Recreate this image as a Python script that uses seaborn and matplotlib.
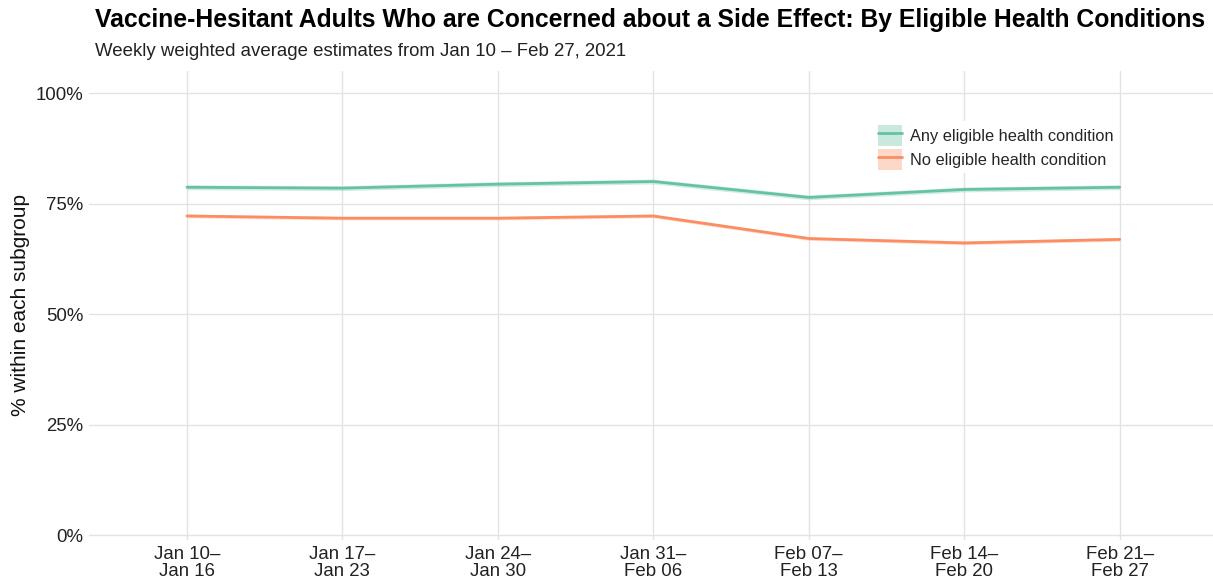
import numpy as np
import pandas as pd
import matplotlib
matplotlib.use("Agg")
import matplotlib.pyplot as plt
import seaborn as sns
from matplotlib.patches import Patch
from matplotlib.lines import Line2D

weeks = ["Jan 10–\nJan 16", "Jan 17–\nJan 23", "Jan 24–\nJan 30", "Jan 31–\nFeb 06",
         "Feb 07–\nFeb 13", "Feb 14–\nFeb 20", "Feb 21–\nFeb 27"]
groups = ["Any eligible health condition", "No eligible health condition"]
any_cond = [78.7, 78.5, 79.4, 80.0, 76.4, 78.2, 78.7]
no_cond = [72.2, 71.7, 71.7, 72.2, 67.1, 66.1, 66.9]
any_err = [0.55, 0.55, 0.55, 0.55, 0.55, 0.55, 0.55]
no_err = [0.4, 0.4, 0.4, 0.4, 0.4, 0.4, 0.4]
colors = ["#66C2A5", "#FC8D62"]

df = pd.DataFrame({
    "week": list(range(len(weeks))) * 2,
    "value": any_cond + no_cond,
    "err": any_err + no_err,
    "group": [groups[0]] * len(weeks) + [groups[1]] * len(weeks),
})

sns.set_theme(style="whitegrid")
plt.rcParams["font.family"] = ["Liberation Sans", "DejaVu Sans"]

fig = plt.figure(figsize=(12.13, 5.83), dpi=100)
ax = fig.add_axes([89 / 1213, 1 - 540 / 583, (1213 - 89) / 1213, (540 - 71) / 583])

for g, c in zip(groups, colors):
    sub = df[df["group"] == g]
    ax.fill_between(sub["week"], sub["value"] - sub["err"], sub["value"] + sub["err"],
                    color=c, alpha=0.3, lw=0)
sns.lineplot(data=df, x="week", y="value", hue="group", palette=colors,
             linewidth=2, ax=ax, legend=False)

ax.set_xlim(-0.63, 6.6)
ax.set_ylim(-1.1, 105)
ax.set_xticks(range(len(weeks)))
ax.set_xticklabels(weeks, fontsize=13.4, color="#222222", linespacing=1.05)
ax.set_yticks([0, 25, 50, 75, 100])
ax.set_yticklabels(["0%", "25%", "50%", "75%", "100%"], fontsize=13.4, color="#222222")
ax.set_xlabel("")
ax.set_ylabel("% within each subgroup", fontsize=15, color="#111111", labelpad=4)
ax.grid(True, color="#e3e3e3", linewidth=1.0)
for s in ax.spines.values():
    s.set_visible(False)
ax.tick_params(axis="both", length=0, pad=4)

handles = [(Patch(facecolor=c, alpha=0.35, lw=0), Line2D([], [], color=c, lw=2)) for c in colors]
leg = ax.legend(handles, groups, loc="upper right", bbox_to_anchor=(0.922, 0.91), frameon=True,
                fontsize=11.8, handlelength=1.45, handleheight=1.6, handletextpad=0.5,
                labelspacing=0.2, borderpad=0.2, fancybox=False)
leg.get_frame().set_facecolor("white")
leg.get_frame().set_edgecolor("none")
leg.get_frame().set_alpha(1)

fig.text(95 / 1213, 1 - 27 / 583, "Vaccine-Hesitant Adults Who are Concerned about a Side Effect: By Eligible Health Conditions",
         fontsize=17.8, fontweight="bold", ha="left", va="baseline", color="black")
fig.text(95 / 1213, 1 - 56 / 583, "Weekly weighted average estimates from Jan 10 – Feb 27, 2021",
         fontsize=13.4, ha="left", va="baseline", color="#222222")

fig.savefig("out.png", dpi=100)
